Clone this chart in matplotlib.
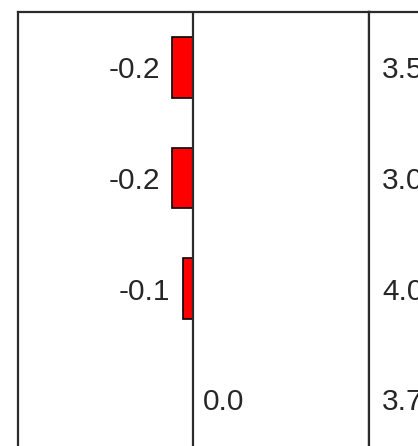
import matplotlib
matplotlib.use("Agg")
import matplotlib.pyplot as plt
from matplotlib.transforms import offset_copy

# table rows: bar column value and the next column value
bar_values = [-0.2, -0.2, -0.1, 0.0]
bar_labels = ["-0.2", "-0.2", "-0.1", "0.0"]
next_labels = ["3.5", "3.0", "4.0", "3.7"]

W, H = 418, 446
fig = plt.figure(figsize=(W / 100, H / 100), dpi=100)
plt.rcParams["font.family"] = ["Liberation Sans", "DejaVu Sans"]

line_col = "#2b2b2b"
text_col = "#262626"
row_px = 110.7
top_px = 12
left_px, mid_px, right_px = 18, 369, 560
n = len(bar_values)
ax_h = n * row_px

# bar column
ax = fig.add_axes([left_px / W, (H - top_px - ax_h) / H,
                   (mid_px - left_px) / W, ax_h / H])
ax.set_xlim(-1.667, 1.676)
ax.set_ylim(n - 0.5, -0.5)
rows = list(range(n))
ax.barh(rows, bar_values, height=0.55, color="red", edgecolor="black",
        linewidth=1.2, zorder=3)
ax.axvline(0, color=line_col, linewidth=1.6, zorder=4)
for y, v, lab in zip(rows, bar_values, bar_labels):
    if v < 0:
        tr = offset_copy(ax.transData, fig=fig, x=-12, y=0, units="dots")
        ax.text(v, y, lab, transform=tr, ha="right", va="center_baseline",
                fontsize=21.5, color=text_col)
    else:
        tr = offset_copy(ax.transData, fig=fig, x=10, y=0, units="dots")
        ax.text(v, y, lab, transform=tr, ha="left", va="center_baseline",
                fontsize=21.5, color=text_col)

# next column (cut off on the right, as in the reference)
ax2 = fig.add_axes([mid_px / W, (H - top_px - ax_h) / H,
                    (right_px - mid_px) / W, ax_h / H])
ax2.set_xlim(0, 1)
ax2.set_ylim(n - 0.5, -0.5)
tr2 = offset_copy(ax2.transData, fig=fig, x=13, y=0, units="dots")
for y, lab in zip(rows, next_labels):
    ax2.text(0, y, lab, transform=tr2, ha="left", va="center_baseline",
             fontsize=21.5, color=text_col)

for a in (ax, ax2):
    a.set_xticks([])
    a.set_yticks([])
    a.spines["bottom"].set_visible(False)
    for s in ("left", "top", "right"):
        a.spines[s].set_color(line_col)
        a.spines[s].set_linewidth(1.6)

fig.savefig("out.png", dpi=100)
